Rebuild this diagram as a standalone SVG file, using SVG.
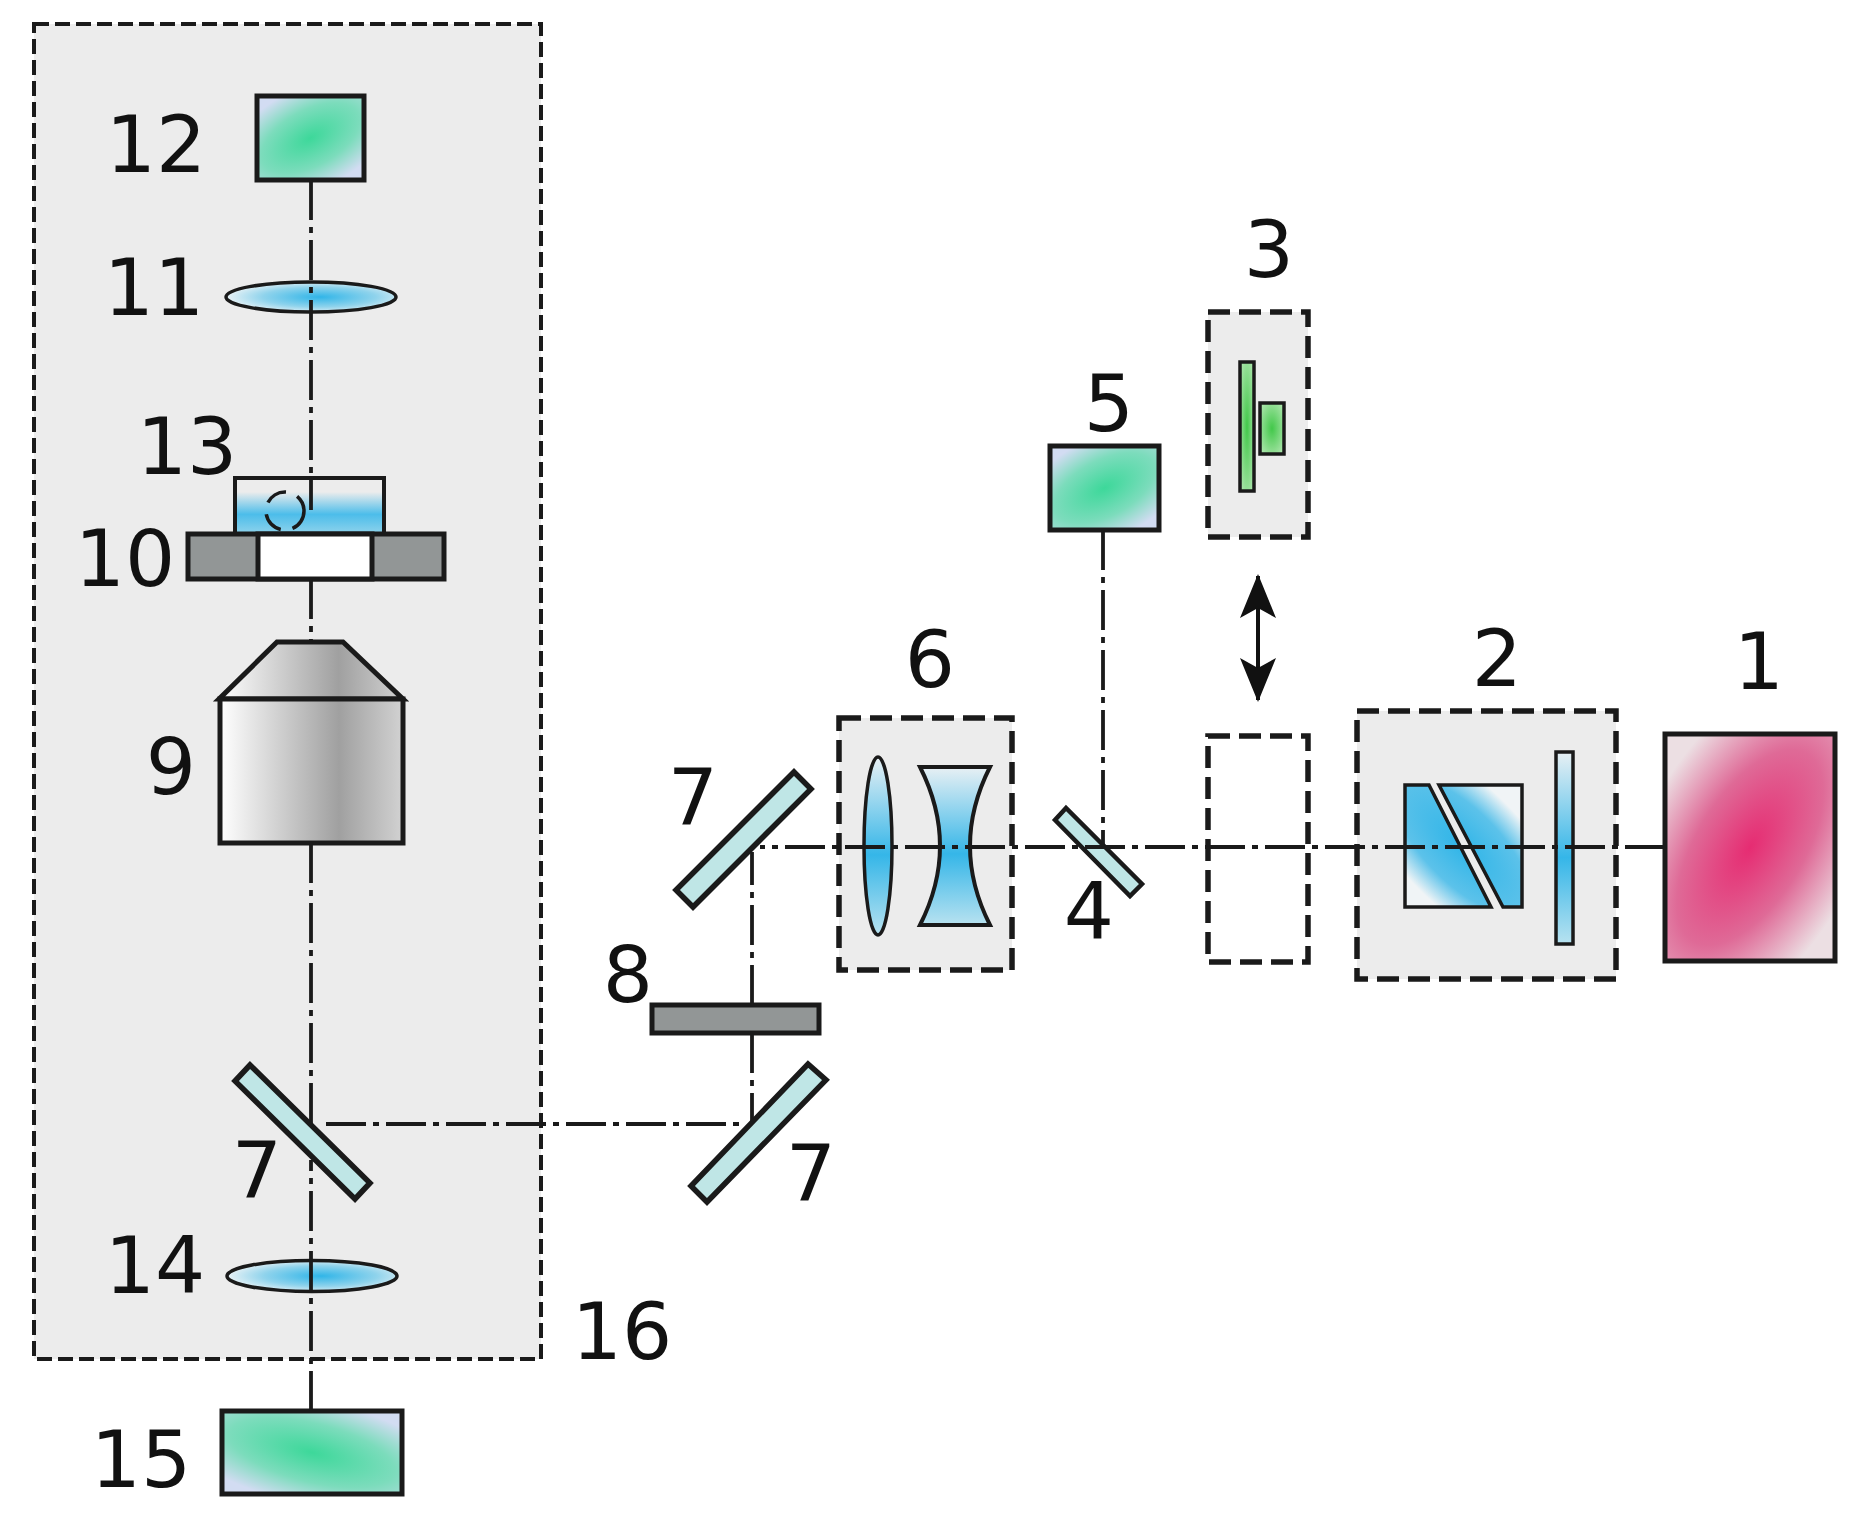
<svg xmlns="http://www.w3.org/2000/svg" width="1863" height="1519" viewBox="0 0 1863 1519">
<style>
text{font-family:"DejaVu Sans","Liberation Sans",sans-serif;font-size:79px;fill:#111;text-anchor:middle}
.b{stroke:#1a1a1a;stroke-width:5}
.t{stroke:#1a1a1a;stroke-width:3.5}
.box{fill:#ececec;stroke:#1a1a1a;stroke-width:5.5;stroke-dasharray:22 9}
.beam{fill:none;stroke:#1a1a1a;stroke-width:3.8;stroke-dasharray:40 7 6 7}
.mir{fill:#bfe6e6;stroke:#1a1a1a;stroke-width:5.5}
</style>
<defs>
<radialGradient id="g1" cx=".5" cy=".5" r=".7" gradientTransform="translate(.5 .5) rotate(-40) scale(1.4 .8) translate(-.5 -.5)"><stop offset="0" stop-color="#3dd89a"/><stop offset=".55" stop-color="#7cdcbc"/><stop offset="1" stop-color="#d2dcf2"/></radialGradient>
<radialGradient id="g1b" cx=".5" cy=".5" r=".7" gradientTransform="translate(.5 .5) rotate(40) scale(1.4 .8) translate(-.5 -.5)"><stop offset="0" stop-color="#3dd89a"/><stop offset=".55" stop-color="#7cdcbc"/><stop offset="1" stop-color="#d2dcf2"/></radialGradient>
<radialGradient id="g2" cx=".5" cy=".5" r=".72" gradientTransform="translate(.5 .5) rotate(-45) scale(1.5 .78) translate(-.5 -.5)"><stop offset="0" stop-color="#e62c72"/><stop offset=".5" stop-color="#df6a97"/><stop offset="1" stop-color="#ecdfe3"/></radialGradient>
<linearGradient id="gs" x1="0" x2="1" y1="0" y2="0"><stop offset="0" stop-color="#fff"/><stop offset=".65" stop-color="#a0a0a0"/><stop offset="1" stop-color="#d2d2d2"/></linearGradient>
<radialGradient id="gb" cx=".55" cy=".5" r=".55"><stop offset="0" stop-color="#30b5e8"/><stop offset=".6" stop-color="#8fd3ec"/><stop offset="1" stop-color="#e8f2f6"/></radialGradient>
<linearGradient id="gv" x1="0" x2="0" y1="0" y2="1"><stop offset="0" stop-color="#e8f0f4"/><stop offset=".55" stop-color="#35b6e8"/><stop offset="1" stop-color="#b8e2f0"/></linearGradient>
<linearGradient id="gw" x1="0" x2="0" y1="0" y2="1"><stop offset=".25" stop-color="#ececec"/><stop offset=".65" stop-color="#4cbdea"/><stop offset="1" stop-color="#8fd3ec"/></linearGradient>
<radialGradient id="gp" gradientUnits="userSpaceOnUse" cx="0" cy="0" r="90" gradientTransform="translate(1462 846) rotate(45) scale(1.6 .68)"><stop offset="0" stop-color="#30b5e8"/><stop offset=".6" stop-color="#5cc2ea"/><stop offset="1" stop-color="#f0f4f6"/></radialGradient>
<radialGradient id="gl" cx=".5" cy=".5" r=".6"><stop offset="0" stop-color="#42c84a"/><stop offset="1" stop-color="#a8e4a8"/></radialGradient>
<marker id="ah" viewBox="0 0 44 36" refX="42" refY="18" markerWidth="44" markerHeight="36" markerUnits="userSpaceOnUse" orient="auto-start-reverse"><path d="M44 18L0 36L10 18L0 0Z" fill="#111"/></marker>
</defs>

<g id="node-16"><rect class="box" style="stroke-width:4;stroke-dasharray:15 6" x="34" y="24" width="507" height="1335"/><text x="622" y="1359">16</text></g>
<g id="node-12"><rect class="b" fill="url(#g1)" x="257" y="96" width="107" height="84"/><text x="156" y="172">12</text></g>
<g id="node-11"><ellipse class="t" fill="url(#gb)" cx="311" cy="297" rx="85" ry="15"/><text x="154" y="315">11</text></g>
<g id="node-13"><rect class="b" style="stroke-width:4" fill="url(#gw)" x="235" y="478" width="149" height="56"/><circle fill="none" stroke="#1a1a1a" stroke-width="3.5" stroke-dasharray="22 12" cx="285" cy="511" r="19"/><text x="187" y="474">13</text></g>
<g id="node-10"><rect class="b" fill="#929696" x="188" y="534" width="256" height="45"/><rect class="b" fill="#fff" x="258" y="534" width="114" height="45"/><text x="125" y="586">10</text></g>
<g id="node-9"><path class="b" fill="url(#gs)" d="M277 642H343L403 699H219Z"/><rect class="b" fill="url(#gs)" x="220" y="699" width="183" height="144"/><text x="171" y="794">9</text></g>
<g id="node-7a"><path class="mir" d="M250 1065L235 1081L355 1199L370 1183Z"/><text x="257" y="1198">7</text></g>
<g id="node-14"><ellipse class="t" fill="url(#gb)" cx="312" cy="1276" rx="85" ry="15.5"/><text x="155" y="1293">14</text></g>
<g id="node-15"><rect class="b" fill="url(#g1b)" x="222" y="1411" width="180" height="83"/><text x="141" y="1487">15</text></g>
<g id="node-8"><rect class="b" fill="#929696" x="652" y="1005" width="167" height="28"/><text x="628" y="1002">8</text></g>
<g id="node-7b"><path class="mir" d="M808 1064L826 1080L707 1202L691 1186Z"/><text x="811" y="1201">7</text></g>
<g id="node-7c"><path class="mir" d="M794 772L811 789L693 907L676 890Z"/><text x="693" y="825">7</text></g>
<g id="node-6"><rect class="box" x="839" y="718" width="173" height="252"/><ellipse class="t" fill="url(#gv)" cx="878" cy="846" rx="14" ry="89"/><path class="t" style="stroke-width:4" fill="url(#gv)" d="M920 767H990Q950 846 990 925H920Q960 846 920 767Z"/><text x="930" y="687">6</text></g>
<g id="node-4"><path class="mir" style="stroke-width:4.5" d="M1066 808L1055 820L1130 896L1142 884Z"/><text x="1089" y="939">4</text></g>
<g id="node-5"><rect class="b" fill="url(#g1)" x="1050" y="446" width="109" height="84"/><text x="1109" y="431">5</text></g>
<g id="node-3"><rect class="box" x="1208" y="312" width="100" height="225"/><rect class="t" fill="url(#gl)" x="1240" y="362" width="14" height="129"/><rect class="t" fill="url(#gl)" x="1260" y="403" width="24" height="51"/><text x="1269" y="277">3</text></g>
<g id="node-3-slot"><rect fill="none" stroke="#1a1a1a" stroke-width="5.5" stroke-dasharray="22 9" x="1208" y="736" width="100" height="226"/></g>
<g id="node-2"><rect class="box" x="1357" y="711" width="259" height="268"/><path class="t" fill="url(#gp)" d="M1405 785H1429L1491 907H1405Z"/><path class="t" fill="url(#gp)" d="M1439 785H1522V907H1503Z"/><rect class="t" fill="url(#gv)" x="1556" y="752" width="17" height="192"/><text x="1497" y="686">2</text></g>
<g id="node-1"><rect class="b" fill="url(#g2)" x="1665" y="734" width="170" height="227"/><text x="1759" y="689">1</text></g>

<g id="connectors">
<path class="beam" d="M311 180V510"/>
<path class="beam" d="M311 579V642"/>
<path class="beam" d="M311 843V1125"/>
<path class="beam" d="M311 1411V1160"/>
<path class="beam" d="M326 1124H745"/>
<path class="beam" d="M752 1005V852"/>
<path class="beam" d="M752 1033V1122"/>
<path class="beam" d="M1665 847H760"/>
<path class="beam" d="M1103 530V847"/>
<path fill="none" stroke="#111" stroke-width="4" marker-start="url(#ah)" marker-end="url(#ah)" d="M1258 576V700"/>
</g>
</svg>
